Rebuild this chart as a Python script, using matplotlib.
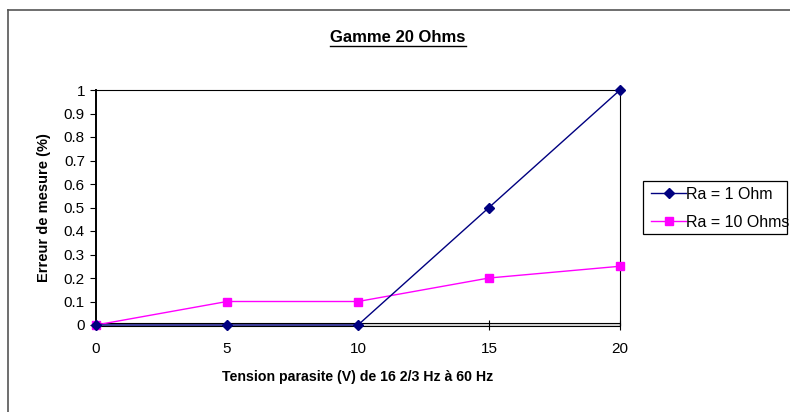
import matplotlib.pyplot as plt
from matplotlib.patches import Rectangle
from matplotlib.lines import Line2D
import matplotlib.transforms as mtransforms

plt.rcParams['font.family'] = ['Liberation Sans', 'DejaVu Sans']

tension = [0, 5, 10, 15, 20]
ra_1ohm = [0, 0, 0, 0.5, 1.0]
ra_10ohms = [0, 0.1, 0.1, 0.2, 0.25]
x_ticks = [0, 5, 10, 15, 20]
y_ticks = [0, 0.1, 0.2, 0.3, 0.4, 0.5, 0.6, 0.7, 0.8, 0.9, 1]

fig = plt.figure(figsize=(7.9, 4.12), dpi=100)
W, H = 790, 412

# outer chart border
fig.add_artist(Line2D([8 / W, 8 / W], [0, 1 - 10 / H], color='#555555', lw=1.2))
fig.add_artist(Line2D([8 / W, 1], [1 - 10 / H, 1 - 10 / H], color='#555555', lw=1.2))

ax = fig.add_axes([96 / W, 1 - 325 / H, 524 / W, 235 / H])
ax.set_xlim(0, 20)
ax.set_ylim(0, 1)

# floor band along the x axis
trans = mtransforms.blended_transform_factory(ax.transData, ax.transAxes)
ax.add_patch(Rectangle((0, -0.004), 20, 0.012, transform=trans, facecolor='#d9d9d9',
                       edgecolor='black', lw=0.8, clip_on=False, zorder=1))

ax.plot(tension, ra_1ohm, color='#000080', marker='D', markersize=5.5, lw=1.0,
        label='Ra = 1 Ohm', clip_on=False, zorder=4)
ax.plot(tension, ra_10ohms, color='#FF00FF', marker='s', markersize=6, lw=1.0,
        label='Ra = 10 Ohms', clip_on=False, zorder=3)

ax.set_xticks(x_ticks)
ax.set_yticks(y_ticks)
ax.set_yticklabels([f'{v:g}' for v in y_ticks])
ax.tick_params(axis='y', direction='out', length=4, width=0.8, labelsize=11, pad=4)
ax.tick_params(axis='x', direction='inout', length=7, width=0.8, labelsize=11, pad=9)
for s in ['top', 'right']:
    ax.spines[s].set_linewidth(0.8)
ax.spines['left'].set_linewidth(1.4)
ax.spines['bottom'].set_visible(False)

ax.set_xlabel('Tension parasite (V) de 16 2/3 Hz à 60 Hz', fontsize=10.2,
              fontweight='bold', labelpad=10)
ax.set_ylabel('Erreur de mesure (%)', fontsize=10.5, fontweight='bold', labelpad=9)

# legend box (text overflows the frame as in the original)
fig.add_artist(Rectangle((643 / W, 1 - 234 / H), 144 / W, 53 / H, transform=fig.transFigure,
                         facecolor='white', edgecolor='black', lw=0.9, zorder=2))
leg = fig.legend(loc='upper left', bbox_to_anchor=(651 / W, 1 - 187 / H),
                 fontsize=11.5, frameon=False, handlelength=2.2, handletextpad=0.0,
                 borderpad=0, labelspacing=0.8, borderaxespad=0)
leg.set_zorder(3)

title = fig.text(398 / W, 1 - 38 / H, 'Gamme 20 Ohms', ha='center', va='center',
                 fontsize=12, fontweight='bold')
fig.canvas.draw()
bb = title.get_window_extent().transformed(fig.transFigure.inverted())
fig.add_artist(Line2D([bb.x0, bb.x1], [bb.y0 - 0.002, bb.y0 - 0.002], color='black', lw=1.0))

fig.savefig('out.png', dpi=100)
